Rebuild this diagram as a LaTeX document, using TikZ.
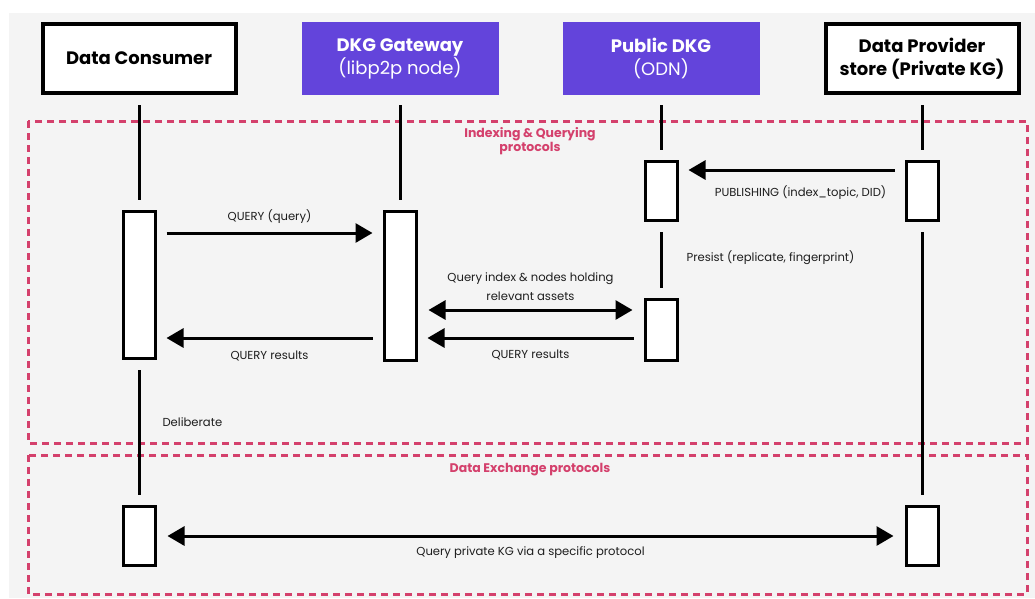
\documentclass[tikz,border=0pt]{standalone}
\usepackage{fontspec}
\setmainfont{Poppins}
\usetikzlibrary{arrows.meta, positioning}
\definecolor{dkgpurple}{RGB}{99, 68, 219}
\definecolor{protored}{RGB}{212, 64, 108}
\definecolor{panelgray}{RGB}{244, 244, 244}
\definecolor{labelgray}{RGB}{30, 30, 30}

\tikzset{
  actor/.style={draw=black, line width=4pt, fill=white, minimum width=193pt, minimum height=69pt,
    align=center, font=\fontsize{18}{23}\selectfont\bfseries},
  dkgactor/.style={fill=dkgpurple, text=white, minimum width=197pt, minimum height=73pt,
    align=center, font=\fontsize{18}{23}\selectfont},
  activ/.style={draw=black, line width=3pt, fill=white, minimum width=32pt, inner sep=0pt},
  lifeline/.style={line width=3pt, shorten <=10pt, shorten >=10pt},
  msg/.style={line width=3pt, -{Triangle[length=17pt, width=19pt]}, shorten <=10pt, shorten >=10pt},
  msgboth/.style={line width=3pt, {Triangle[length=17pt, width=19pt]}-{Triangle[length=17pt, width=19pt]},
    shorten <=11pt, shorten >=11pt},
  msglabel/.style={font=\fontsize{11.6}{19}\selectfont, text=labelgray, align=center},
  protolabel/.style={font=\fontsize{12.5}{14}\selectfont\bfseries, text=protored, align=center},
  protoframe/.style={draw=protored, line width=3pt, dash pattern=on 7pt off 5pt},
}

\begin{document}
\begin{tikzpicture}[x=1pt, y=-1pt]
  \useasboundingbox (0,0) rectangle (1035,598);
  \fill[white] (0,0) rectangle (1035,598);
  \fill[panelgray] (9,13) rectangle (1035,598);

  % Protocol frames
  \draw[protoframe] (28,121) rectangle (1027,443);
  \draw[protoframe] (28,455) rectangle (1027,594);
  \node[protolabel] (idxtitle) at (530,141) {Indexing \& Querying\\protocols};
  \node[protolabel] (extitle) at (530,470) {Data Exchange protocols};

  % Actors
  \node[actor] (consumer) at (139,58.5) {Data Consumer};
  \node[dkgactor] (gateway) at (400,58.5) {\textbf{DKG Gateway}\\(libp2p node)};
  \node[dkgactor] (public) at (661,58.5) {\textbf{Public DKG}\\(ODN)};
  \node[actor] (provider) at (922,58.5) {Data Provider\\store (Private KG)};

  % Activation boxes
  \node[activ, minimum height=147pt] (cq) at (139,285) {};
  \node[activ, minimum height=149pt] (gw) at (400,286) {};
  \node[activ, minimum height=59pt] (pub1) at (661,191) {};
  \node[activ, minimum height=61pt] (pub2) at (661,330) {};
  \node[activ, minimum height=59pt] (prov1) at (922,191) {};
  \node[activ, minimum height=59pt] (cx) at (139,536) {};
  \node[activ, minimum height=59pt] (px) at (922,536) {};

  % Lifelines
  \draw[lifeline] (consumer) -- (cq);
  \draw[lifeline] (cq) -- (cx);
  \draw[lifeline] (gateway) -- (gw);
  \draw[lifeline] (public) -- (pub1);
  \draw[lifeline] (pub1) -- (pub2);
  \draw[lifeline] (provider) -- (prov1);
  \draw[lifeline] (prov1) -- (px);

  % Message rows
  \coordinate (rowpub) at (0,170);
  \coordinate (rowq) at (0,233);
  \coordinate (rowidx) at (0,310);
  \coordinate (rowres) at (0,338);
  \coordinate (rowex) at (0,536);

  % Indexing & Querying
  \draw[msg] (prov1.west |- rowpub) -- (pub1.east |- rowpub)
    node[msglabel, midway, xshift=9pt, yshift=-23pt] {PUBLISHING (index\_topic, DID)};
  \node[msglabel, anchor=west] (persist) at (683,258) {Presist (replicate, fingerprint)};
  \draw[msg] (cq.east |- rowq) -- (gw.west |- rowq)
    node[msglabel, midway, yshift=16pt] {QUERY (query)};
  \draw[msgboth] (gw.east |- rowidx) -- (pub2.west |- rowidx)
    node[msglabel, midway, yshift=23pt] {Query index \& nodes holding\\relevant assets};
  \draw[msg] (pub2.west |- rowres) -- (gw.east |- rowres)
    node[msglabel, midway, yshift=-17pt] {QUERY results};
  \draw[msg] (gw.west |- rowres) -- (cq.east |- rowres)
    node[msglabel, midway, yshift=-18pt] {QUERY results};
  \node[msglabel, anchor=west] (deliberate) at (159,422) {Deliberate};

  % Data Exchange
  \draw[msgboth] (cx.east |- rowex) -- (px.west |- rowex)
    node[msglabel, midway, yshift=-17pt] {Query private KG via a specific protocol};
\end{tikzpicture}
\end{document}
